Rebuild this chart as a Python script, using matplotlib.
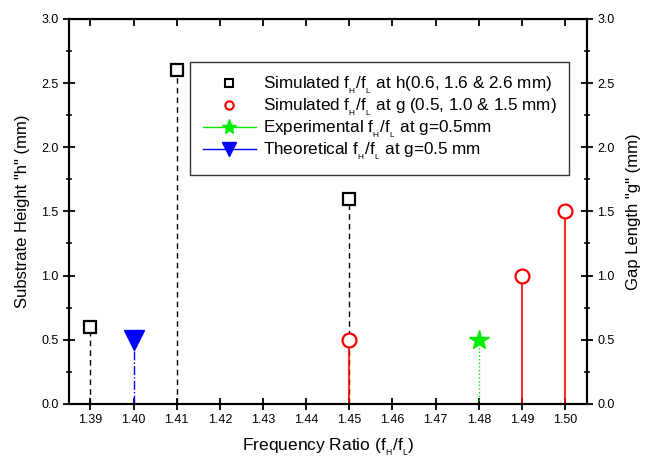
import matplotlib.pyplot as plt
from matplotlib.lines import Line2D

plt.rcParams['font.family'] = ['Liberation Sans', 'DejaVu Sans']
plt.rcParams['mathtext.fontset'] = 'custom'
plt.rcParams['mathtext.rm'] = 'Liberation Sans'

# data
h_ratio = [1.39, 1.41, 1.45]
h_vals = [0.6, 2.6, 1.6]
g_ratio = [1.45, 1.49, 1.50]
g_vals = [0.5, 1.0, 1.5]
exp_ratio = [1.48]
exp_vals = [0.5]
theo_ratio = [1.40]
theo_vals = [0.5]
xticks = [1.39, 1.40, 1.41, 1.42, 1.43, 1.44, 1.45, 1.46, 1.47, 1.48, 1.49, 1.50]
yticks = [0, 0.5, 1.0, 1.5, 2.0, 2.5, 3.0]
yminor = [0.25, 0.75, 1.25, 1.75, 2.25, 2.75]

HL = r'f$_{_\mathregular{H}}$/f$_{_\mathregular{L}}$'

fig = plt.figure(figsize=(6.49, 4.61), dpi=100, facecolor='w')
ax = fig.add_axes([0.106, 0.124, 0.798, 0.835])
ax2 = ax.twinx()

# stems
ax.vlines(h_ratio, 0, h_vals, colors='k', linestyles=(0, (4, 3)), lw=1)
ax.vlines(theo_ratio, 0, theo_vals, colors='b', linestyles='-.', lw=1)
ax.vlines(exp_ratio, 0, exp_vals, colors='#00ee00', linestyles=':', lw=1)
ax2.vlines(g_ratio, 0, g_vals, colors='r', linestyles='-', lw=1.2)

ax.plot(h_ratio, h_vals, 's', ms=9, mfc='w', mec='k', mew=1.6, clip_on=False, zorder=5)
ax.plot(theo_ratio, theo_vals, 'v', ms=14, color='b', zorder=5)
ax.plot(exp_ratio, exp_vals, '*', ms=15, color='#00ee00', zorder=5)
ax2.plot(g_ratio, g_vals, 'o', ms=10, mfc='w', mec='r', mew=1.6, zorder=5)

ax.set_xlim(1.385, 1.505)
ax.set_ylim(0, 3.0)
ax2.set_ylim(0, 3.0)
ax.set_xticks(xticks)
ax.set_xticklabels(['%.2f' % t for t in xticks])
for a in (ax, ax2):
    a.set_yticks(yticks)
    a.set_yticks(yminor, minor=True)
    a.set_yticklabels(['%.1f' % t for t in yticks])
    for s in a.spines.values():
        s.set_linewidth(1.5)
    a.tick_params(which='major', direction='inout', length=8, width=1.3, labelsize=9, colors='k')
    a.tick_params(which='minor', direction='inout', length=5, width=1.1)

# top ticks point inward only
top = ax.secondary_xaxis('top')
top.set_xticks(xticks)
top.tick_params(direction='in', length=5, width=1.3, labeltop=False)

ax.set_xlabel('Frequency Ratio (' + HL + ')', fontsize=12.5, labelpad=8)
ax.set_ylabel('Substrate Height "h" (mm)', fontsize=12, labelpad=8)
ax2.set_ylabel('Gap Length "g" (mm)', fontsize=12, labelpad=8)

handles = [
    Line2D([], [], ls='none', marker='s', ms=6, mfc='w', mec='k', mew=1.5),
    Line2D([], [], ls='none', marker='o', ms=6, mfc='w', mec='r', mew=1.5),
    Line2D([], [], color='#00ee00', lw=1, marker='*', ms=11),
    Line2D([], [], color='b', lw=1, marker='v', ms=10),
]
labels = [
    'Simulated ' + HL + ' at h(0.6, 1.6 & 2.6 mm)',
    'Simulated ' + HL + ' at g (0.5, 1.0 & 1.5 mm)',
    'Experimental ' + HL + ' at g=0.5mm',
    'Theoretical ' + HL + ' at g=0.5 mm',
]
leg = ax.legend(handles, labels, loc='upper left', bbox_to_anchor=(0.234, 0.888),
                borderaxespad=0, fontsize=12.3, frameon=True, fancybox=False,
                handlelength=3.1, borderpad=0.75, labelspacing=0.05, handletextpad=0.4)
leg.get_frame().set_edgecolor('k')
leg.get_frame().set_linewidth(1)
leg.set_zorder(10)

plt.savefig('out.png', dpi=100)
